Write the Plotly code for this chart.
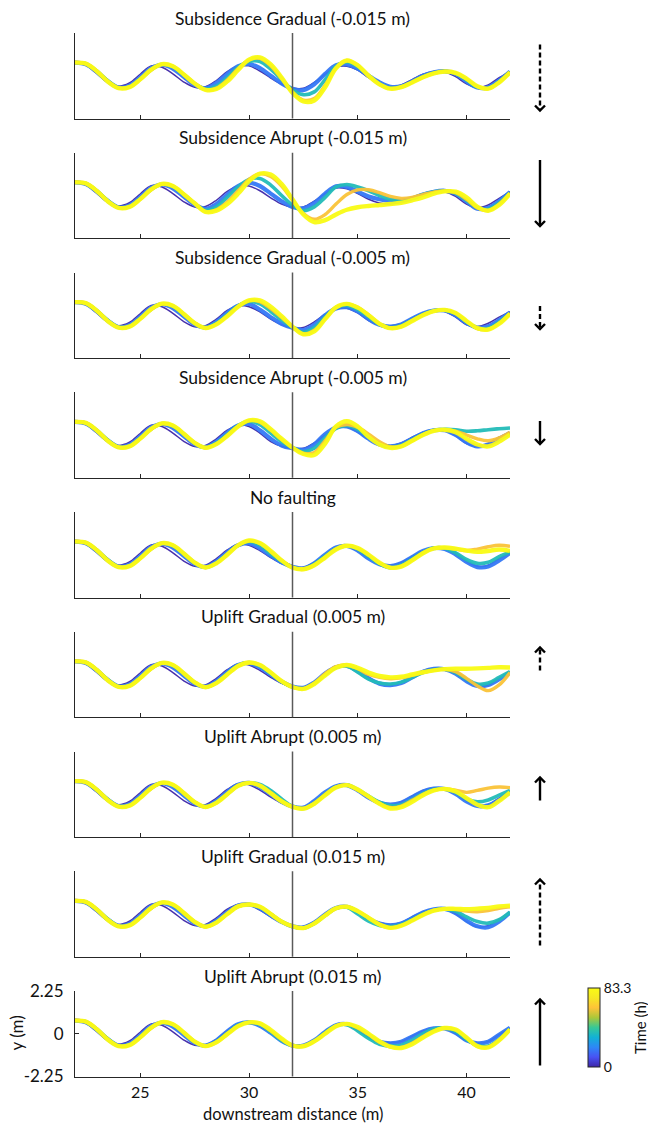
import plotly.graph_objects as go
from plotly.colors import sample_colorscale

# ---------------- data ----------------
X = [22.0, 22.5, 23.0, 23.5, 24.0, 24.5, 25.0, 25.5, 26.0, 26.5, 27.0, 27.5,
     28.0, 28.5, 29.0, 29.5, 30.0, 30.5, 31.0, 31.5, 32.0, 32.5, 33.0, 33.5,
     34.0, 34.5, 35.0, 35.5, 36.0, 36.5, 37.0, 37.5, 38.0, 38.5, 39.0, 39.5,
     40.0, 40.5, 41.0, 41.5, 42.0]

TIMES = [0, 18, 36, 62, 83.3]          # snapshot times (h)
T_MAX = 83.3
FAULT_X = 32

TITLES = ["Subsidence Gradual (-0.015 m)", "Subsidence Abrupt (-0.015 m)",
          "Subsidence Gradual (-0.005 m)", "Subsidence Abrupt (-0.005 m)",
          "No faulting", "Uplift Gradual (0.005 m)", "Uplift Abrupt (0.005 m)",
          "Uplift Gradual (0.015 m)", "Uplift Abrupt (0.015 m)"]

# upstream reach 22-27.5 m (one row per snapshot time), nearly identical in all runs
UPSTREAM = [
    [0.68, 0.55, 0.12, -0.35, -0.55, -0.38, 0.08, 0.52, 0.45, 0.10, -0.33, -0.60],
    [0.69, 0.60, 0.20, -0.28, -0.62, -0.52, -0.08, 0.40, 0.58, 0.38, -0.05, -0.48],
    [0.70, 0.63, 0.25, -0.26, -0.63, -0.58, -0.16, 0.32, 0.60, 0.47, 0.05, -0.42],
    [0.71, 0.64, 0.26, -0.28, -0.64, -0.60, -0.19, 0.30, 0.60, 0.50, 0.07, -0.40],
    [0.69, 0.64, 0.24, -0.30, -0.65, -0.60, -0.19, 0.32, 0.61, 0.50, 0.07, -0.41],
]

# downstream reach 28-42 m, per run, one row per snapshot time
SUB_GRAD_015 = [
    [-0.58, -0.25, 0.22, 0.50, 0.52, 0.25, -0.12, -0.45, -0.65, -0.66, -0.35, 0.08, 0.45, 0.50, 0.30, -0.10, -0.45, -0.58, -0.48, -0.20, 0.08, 0.22, 0.20, -0.05, -0.42, -0.62, -0.48, -0.10, 0.22],
    [-0.66, -0.38, 0.10, 0.50, 0.62, 0.40, 0.00, -0.40, -0.68, -0.76, -0.45, 0.10, 0.55, 0.60, 0.38, 0.00, -0.35, -0.58, -0.55, -0.30, 0.00, 0.18, 0.24, 0.10, -0.30, -0.62, -0.60, -0.25, 0.22],
    [-0.70, -0.55, -0.10, 0.45, 0.75, 0.75, 0.35, -0.20, -0.75, -1.00, -0.85, -0.20, 0.50, 0.72, 0.48, 0.00, -0.42, -0.65, -0.58, -0.32, -0.05, 0.15, 0.23, 0.12, -0.22, -0.60, -0.65, -0.30, 0.20],
    [-0.73, -0.65, -0.22, 0.38, 0.83, 0.92, 0.52, -0.15, -0.85, -1.28, -1.20, -0.50, 0.42, 0.80, 0.55, 0.00, -0.45, -0.68, -0.60, -0.34, -0.07, 0.13, 0.22, 0.14, -0.18, -0.57, -0.68, -0.33, 0.18],
    [-0.74, -0.70, -0.30, 0.30, 0.85, 0.97, 0.60, -0.10, -0.90, -1.35, -1.30, -0.60, 0.40, 0.80, 0.55, 0.00, -0.45, -0.68, -0.60, -0.35, -0.08, 0.12, 0.22, 0.15, -0.15, -0.55, -0.68, -0.35, 0.18],
]
SUB_ABR_015 = [
    [-0.58, -0.25, 0.22, 0.50, 0.50, 0.25, -0.12, -0.45, -0.62, -0.60, -0.30, 0.10, 0.40, 0.35, 0.10, -0.20, -0.40, -0.45, -0.35, -0.12, 0.10, 0.22, 0.20, -0.05, -0.45, -0.65, -0.50, -0.15, 0.20],
    [-0.70, -0.45, 0.05, 0.50, 0.68, 0.50, 0.10, -0.30, -0.60, -0.68, -0.40, 0.10, 0.48, 0.45, 0.20, -0.05, -0.20, -0.30, -0.30, -0.15, 0.05, 0.20, 0.25, 0.10, -0.30, -0.70, -0.65, -0.30, 0.18],
    [-0.78, -0.60, -0.10, 0.45, 0.85, 0.90, 0.55, 0.00, -0.50, -0.80, -0.60, -0.10, 0.45, 0.58, 0.45, 0.25, 0.00, -0.20, -0.25, -0.15, 0.05, 0.20, 0.25, 0.12, -0.25, -0.65, -0.72, -0.38, 0.15],
    [-0.85, -0.75, -0.35, 0.25, 0.85, 1.15, 1.00, 0.50, -0.25, -0.95, -1.25, -1.00, -0.45, 0.05, 0.30, 0.30, 0.15, -0.05, -0.15, -0.10, 0.05, 0.18, 0.24, 0.15, -0.20, -0.65, -0.78, -0.45, 0.12],
    [-0.86, -0.80, -0.45, 0.10, 0.75, 1.15, 1.10, 0.60, -0.20, -1.00, -1.40, -1.30, -1.00, -0.75, -0.62, -0.55, -0.50, -0.45, -0.38, -0.25, -0.10, 0.10, 0.22, 0.20, -0.10, -0.60, -0.80, -0.50, 0.10],
]
SUB_GRAD_005 = [
    [-0.55, -0.20, 0.25, 0.50, 0.45, 0.18, -0.20, -0.50, -0.66, -0.64, -0.35, 0.05, 0.33, 0.37, 0.12, -0.28, -0.52, -0.56, -0.45, -0.15, 0.12, 0.26, 0.20, -0.10, -0.50, -0.60, -0.42, -0.10, 0.19],
    [-0.64, -0.35, 0.12, 0.50, 0.60, 0.30, -0.10, -0.45, -0.66, -0.78, -0.50, 0.00, 0.35, 0.42, 0.20, -0.20, -0.50, -0.60, -0.48, -0.18, 0.10, 0.25, 0.25, 0.00, -0.40, -0.65, -0.58, -0.25, 0.15],
    [-0.66, -0.42, 0.03, 0.50, 0.72, 0.60, 0.20, -0.25, -0.64, -0.90, -0.65, -0.10, 0.40, 0.52, 0.30, -0.08, -0.48, -0.66, -0.55, -0.25, 0.05, 0.24, 0.27, 0.08, -0.35, -0.68, -0.68, -0.35, 0.10],
    [-0.67, -0.46, -0.03, 0.47, 0.77, 0.72, 0.35, -0.12, -0.60, -0.98, -0.78, -0.18, 0.42, 0.60, 0.42, 0.02, -0.44, -0.68, -0.60, -0.28, 0.02, 0.22, 0.28, 0.10, -0.32, -0.70, -0.74, -0.42, 0.10],
    [-0.67, -0.48, -0.05, 0.45, 0.78, 0.78, 0.45, -0.05, -0.60, -1.00, -0.85, -0.20, 0.42, 0.60, 0.40, 0.00, -0.45, -0.68, -0.60, -0.30, 0.00, 0.22, 0.28, 0.12, -0.30, -0.68, -0.75, -0.45, 0.08],
]
SUB_ABR_005 = [
    [-0.55, -0.20, 0.25, 0.52, 0.45, 0.10, -0.35, -0.60, -0.70, -0.70, -0.42, 0.00, 0.35, 0.42, 0.15, -0.22, -0.50, -0.56, -0.42, -0.12, 0.15, 0.28, 0.22, -0.05, -0.45, -0.60, -0.45, -0.12, 0.12],
    [-0.64, -0.35, 0.12, 0.50, 0.58, 0.25, -0.20, -0.55, -0.70, -0.78, -0.50, 0.05, 0.40, 0.45, 0.20, -0.20, -0.50, -0.60, -0.48, -0.20, 0.10, 0.25, 0.25, 0.00, -0.38, -0.60, -0.50, -0.20, 0.12],
    [-0.66, -0.42, 0.03, 0.50, 0.72, 0.55, 0.10, -0.35, -0.67, -0.88, -0.70, -0.15, 0.35, 0.50, 0.30, -0.10, -0.45, -0.62, -0.55, -0.25, 0.05, 0.25, 0.30, 0.28, 0.20, 0.22, 0.28, 0.33, 0.37],
    [-0.67, -0.46, -0.02, 0.47, 0.76, 0.68, 0.25, -0.25, -0.67, -0.95, -0.92, -0.30, 0.40, 0.55, 0.40, 0.05, -0.35, -0.62, -0.60, -0.30, 0.02, 0.24, 0.28, 0.20, 0.00, -0.20, -0.30, -0.15, 0.15],
    [-0.67, -0.48, -0.05, 0.45, 0.77, 0.72, 0.30, -0.20, -0.66, -1.00, -1.05, -0.45, 0.45, 0.72, 0.45, -0.10, -0.50, -0.68, -0.60, -0.30, 0.00, 0.22, 0.28, 0.15, -0.20, -0.50, -0.60, -0.35, 0.02],
]
NO_FAULT = [
    [-0.55, -0.20, 0.25, 0.55, 0.50, 0.22, -0.15, -0.47, -0.65, -0.66, -0.40, -0.02, 0.35, 0.45, 0.20, -0.15, -0.45, -0.55, -0.40, -0.10, 0.20, 0.33, 0.28, 0.05, -0.35, -0.60, -0.55, -0.20, 0.12],
    [-0.64, -0.35, 0.12, 0.50, 0.60, 0.35, -0.05, -0.40, -0.63, -0.72, -0.45, 0.00, 0.38, 0.46, 0.22, -0.20, -0.50, -0.60, -0.45, -0.12, 0.20, 0.35, 0.30, 0.02, -0.38, -0.65, -0.62, -0.30, 0.10],
    [-0.67, -0.42, 0.05, 0.50, 0.70, 0.50, 0.05, -0.35, -0.65, -0.76, -0.50, -0.08, 0.32, 0.47, 0.30, -0.08, -0.48, -0.68, -0.55, -0.22, 0.12, 0.35, 0.34, 0.10, -0.25, -0.45, -0.40, -0.10, 0.15],
    [-0.67, -0.44, 0.02, 0.50, 0.74, 0.60, 0.15, -0.30, -0.67, -0.77, -0.55, -0.12, 0.30, 0.47, 0.34, -0.02, -0.44, -0.69, -0.60, -0.27, 0.10, 0.34, 0.36, 0.30, 0.22, 0.30, 0.42, 0.50, 0.45],
    [-0.67, -0.45, 0.00, 0.50, 0.75, 0.62, 0.20, -0.30, -0.68, -0.76, -0.55, -0.15, 0.28, 0.47, 0.35, 0.00, -0.42, -0.68, -0.62, -0.30, 0.08, 0.33, 0.38, 0.32, 0.22, 0.15, 0.20, 0.28, 0.20],
]
UP_GRAD_005 = [
    [-0.55, -0.20, 0.25, 0.55, 0.50, 0.22, -0.15, -0.47, -0.65, -0.66, -0.40, -0.02, 0.35, 0.45, 0.20, -0.15, -0.45, -0.55, -0.40, -0.10, 0.20, 0.33, 0.28, 0.05, -0.35, -0.60, -0.55, -0.20, 0.12],
    [-0.64, -0.35, 0.12, 0.50, 0.60, 0.38, 0.00, -0.38, -0.63, -0.70, -0.42, 0.05, 0.38, 0.45, 0.18, -0.20, -0.48, -0.56, -0.45, -0.15, 0.15, 0.30, 0.28, 0.05, -0.35, -0.60, -0.55, -0.25, 0.10],
    [-0.66, -0.42, 0.05, 0.48, 0.63, 0.45, 0.05, -0.38, -0.66, -0.74, -0.45, 0.00, 0.38, 0.45, 0.12, -0.25, -0.45, -0.50, -0.40, -0.15, 0.10, 0.25, 0.28, 0.10, -0.25, -0.50, -0.45, -0.15, 0.15],
    [-0.67, -0.45, 0.00, 0.45, 0.63, 0.50, 0.10, -0.35, -0.66, -0.74, -0.45, 0.05, 0.42, 0.50, 0.30, 0.00, -0.15, -0.22, -0.18, -0.05, 0.10, 0.22, 0.28, 0.15, -0.20, -0.60, -0.85, -0.55, 0.10],
    [-0.67, -0.45, 0.00, 0.45, 0.63, 0.50, 0.10, -0.35, -0.66, -0.76, -0.50, -0.05, 0.35, 0.50, 0.35, 0.10, -0.08, -0.15, -0.12, 0.00, 0.12, 0.22, 0.28, 0.30, 0.30, 0.32, 0.35, 0.38, 0.37],
]
UP_ABR_005 = [
    [-0.55, -0.20, 0.25, 0.55, 0.50, 0.22, -0.15, -0.47, -0.65, -0.66, -0.40, -0.02, 0.35, 0.45, 0.20, -0.15, -0.45, -0.55, -0.40, -0.10, 0.20, 0.33, 0.28, 0.05, -0.35, -0.60, -0.55, -0.20, 0.12],
    [-0.64, -0.35, 0.12, 0.50, 0.60, 0.38, 0.00, -0.40, -0.64, -0.70, -0.35, 0.10, 0.42, 0.48, 0.20, -0.18, -0.45, -0.55, -0.45, -0.15, 0.15, 0.30, 0.28, 0.02, -0.38, -0.62, -0.58, -0.28, 0.10],
    [-0.66, -0.42, 0.02, 0.45, 0.60, 0.52, 0.20, -0.25, -0.64, -0.75, -0.48, 0.00, 0.38, 0.48, 0.25, -0.10, -0.42, -0.60, -0.55, -0.28, 0.05, 0.25, 0.28, 0.10, -0.25, -0.40, -0.30, -0.05, 0.20],
    [-0.67, -0.45, 0.00, 0.45, 0.60, 0.47, 0.08, -0.35, -0.66, -0.75, -0.48, -0.02, 0.38, 0.48, 0.22, -0.15, -0.48, -0.70, -0.62, -0.32, 0.00, 0.22, 0.28, 0.22, 0.10, 0.20, 0.32, 0.38, 0.35],
    [-0.67, -0.45, 0.00, 0.45, 0.60, 0.45, 0.05, -0.38, -0.66, -0.76, -0.50, -0.05, 0.35, 0.48, 0.25, -0.12, -0.50, -0.75, -0.68, -0.40, -0.05, 0.20, 0.28, 0.15, -0.20, -0.55, -0.68, -0.35, 0.10],
]
UP_GRAD_015 = [
    [-0.55, -0.20, 0.25, 0.50, 0.48, 0.20, -0.15, -0.47, -0.65, -0.66, -0.40, 0.00, 0.33, 0.40, 0.15, -0.20, -0.45, -0.55, -0.45, -0.15, 0.12, 0.25, 0.25, 0.00, -0.40, -0.68, -0.62, -0.28, 0.10],
    [-0.64, -0.35, 0.10, 0.45, 0.50, 0.30, -0.08, -0.42, -0.65, -0.70, -0.45, -0.02, 0.32, 0.38, 0.12, -0.25, -0.50, -0.60, -0.50, -0.22, 0.08, 0.25, 0.27, 0.05, -0.35, -0.65, -0.70, -0.40, 0.08],
    [-0.66, -0.42, 0.02, 0.40, 0.50, 0.36, 0.00, -0.40, -0.65, -0.74, -0.50, -0.08, 0.30, 0.36, 0.00, -0.38, -0.60, -0.66, -0.55, -0.30, 0.00, 0.20, 0.27, 0.15, -0.15, -0.40, -0.48, -0.30, 0.10],
    [-0.67, -0.45, 0.00, 0.40, 0.50, 0.38, 0.00, -0.40, -0.65, -0.74, -0.50, -0.08, 0.30, 0.38, 0.15, -0.20, -0.55, -0.72, -0.60, -0.33, -0.03, 0.20, 0.27, 0.24, 0.15, 0.12, 0.18, 0.30, 0.38],
    [-0.67, -0.45, 0.00, 0.40, 0.50, 0.38, 0.00, -0.40, -0.65, -0.74, -0.50, -0.08, 0.30, 0.38, 0.15, -0.20, -0.55, -0.73, -0.62, -0.35, -0.05, 0.18, 0.27, 0.27, 0.25, 0.28, 0.32, 0.40, 0.44],
]
UP_ABR_015 = [
    [-0.58, -0.30, 0.15, 0.50, 0.55, 0.50, 0.15, -0.30, -0.60, -0.62, -0.35, 0.05, 0.40, 0.48, 0.25, -0.10, -0.38, -0.47, -0.40, -0.12, 0.15, 0.30, 0.28, 0.00, -0.38, -0.50, -0.40, -0.05, 0.30],
    [-0.62, -0.35, 0.12, 0.50, 0.60, 0.42, 0.05, -0.38, -0.62, -0.62, -0.35, 0.10, 0.45, 0.50, 0.25, -0.12, -0.42, -0.50, -0.42, -0.15, 0.12, 0.28, 0.28, 0.05, -0.35, -0.50, -0.42, -0.05, 0.32],
    [-0.64, -0.42, 0.02, 0.45, 0.60, 0.48, 0.10, -0.35, -0.62, -0.65, -0.38, 0.05, 0.42, 0.48, 0.15, -0.25, -0.55, -0.65, -0.60, -0.35, 0.00, 0.25, 0.30, 0.12, -0.30, -0.62, -0.65, -0.30, 0.25],
    [-0.65, -0.45, -0.02, 0.42, 0.60, 0.52, 0.15, -0.30, -0.62, -0.66, -0.40, 0.02, 0.42, 0.52, 0.30, -0.05, -0.45, -0.70, -0.72, -0.50, -0.15, 0.15, 0.30, 0.20, -0.22, -0.66, -0.70, -0.32, 0.22],
    [-0.65, -0.45, -0.02, 0.40, 0.60, 0.55, 0.20, -0.25, -0.62, -0.66, -0.40, 0.00, 0.40, 0.52, 0.35, 0.00, -0.40, -0.68, -0.75, -0.55, -0.20, 0.12, 0.30, 0.22, -0.20, -0.65, -0.72, -0.35, 0.22],
]

RUNS = [SUB_GRAD_015, SUB_ABR_015, SUB_GRAD_005, SUB_ABR_005, NO_FAULT,
        UP_GRAD_005, UP_ABR_005, UP_GRAD_015, UP_ABR_015]

# fault movement arrows: (direction +1 up / -1 down, dashed=gradual, long=0.015 m, centre px)
ARROWS = [(-1, True, True, 77.5), (-1, False, True, 193), (-1, True, False, 317.5),
          (-1, False, False, 432.5), None, (1, True, False, 659), (1, False, False, 789),
          (1, True, True, 912.5), (1, False, True, 1032.5)]

# ---------------- style ----------------
PARULA = [[0.0, "#3e26a8"], [0.125, "#4852f4"], [0.25, "#2e87f7"], [0.375, "#12b1d6"],
          [0.5, "#37c897"], [0.625, "#abc739"], [0.75, "#fec338"], [0.875, "#f5e824"],
          [1.0, "#f9fb15"]]
WIDTHS = [1.5, 4.2, 3.6, 3.4, 4.4]
FONT = "Lato"
TXT = "#111111"
AX = "#262626"

W, H = 648, 1124
ML, MR, MT, MB = 75, 138, 33, 47
PW, PH = W - ML - MR, H - MT - MB
PITCH, PANEL_H = 119.75, 85.5


def py(px):
    return min(1.0, max(0.0, 1 - (px - MT) / PH))


def pyf(px):
    return 1 - (px - MT) / PH


def pxx(px):
    return (px - ML) / PW


fig = go.Figure()
layout = dict(width=W, height=H, margin=dict(l=ML, r=MR, t=MT, b=MB),
              paper_bgcolor="white", plot_bgcolor="white", showlegend=False,
              font=dict(family=FONT, color=TXT, size=16))
shapes, annotations = [], []
n = len(RUNS)
for i, run in enumerate(RUNS):
    k = i + 1
    sfx = "" if k == 1 else str(k)
    top = MT + i * PITCH
    bot = top + PANEL_H
    last = (i == n - 1)
    layout["xaxis" + sfx] = dict(
        domain=[0, 1], anchor="y" + sfx, range=[22, 42], showgrid=False, zeroline=False,
        showline=True, linecolor=AX, linewidth=1, ticks="inside", ticklen=4, tickwidth=1,
        tickcolor=AX, tickvals=[25, 30, 35, 40], showticklabels=last,
        tickfont=dict(size=16, family=FONT, color=TXT), ticklabelstandoff=1)
    layout["yaxis" + sfx] = dict(
        domain=[py(bot), py(top)], anchor="x" + sfx, range=[-2.25, 2.25], showgrid=False,
        zeroline=False, showline=True, linecolor=AX, linewidth=1,
        ticks="inside" if last else "", ticklen=4, tickcolor=AX,
        tickvals=[-2.25, 0, 2.25], ticktext=["-2.25", "0", "2.25"], showticklabels=last,
        tickfont=dict(size=17, family=FONT, color=TXT), ticklabelstandoff=7)
    for j, t in enumerate(TIMES):
        col = sample_colorscale(PARULA, [t / T_MAX])[0]
        fig.add_trace(go.Scatter(
            x=X, y=UPSTREAM[j] + run[j], mode="lines", xaxis="x" + sfx, yaxis="y" + sfx,
            line=dict(color=col, width=WIDTHS[j], shape="spline", smoothing=1.0),
            opacity=0.95, hoverinfo="skip"))
    shapes.append(dict(type="line", xref="x" + sfx, yref="y" + sfx + " domain",
                       x0=FAULT_X, x1=FAULT_X, y0=0, y1=1, layer="above",
                       line=dict(color="#5a5a5a", width=1.5)))
    annotations.append(dict(text=TITLES[i], x=0.5, xref="paper", y=py(top), yref="paper",
                            yanchor="middle", yshift=15, showarrow=False,
                            font=dict(size=17.5, family=FONT, color=TXT)))
    arr = ARROWS[i]
    if arr is not None:
        d, dashed, long, cy = arr
        L = 66 if long else 23
        ax_px = 540
        y_tail = cy + d * L / 2
        y_head = cy - d * L / 2
        shapes.append(dict(type="line", xref="paper", yref="paper",
                           x0=pxx(ax_px), x1=pxx(ax_px), y0=pyf(y_tail), y1=pyf(y_head + d * 1),
                           line=dict(color="black", width=2.4,
                                     dash="5px,3px" if dashed else "solid")))
        hw, hh = 5, 5
        shapes.append(dict(type="path", xref="paper", yref="paper",
                           path="M {:.5f},{:.5f} L {:.5f},{:.5f} L {:.5f},{:.5f}".format(
                               pxx(ax_px - hw), pyf(y_head + d * hh),
                               pxx(ax_px), pyf(y_head),
                               pxx(ax_px + hw), pyf(y_head + d * hh)),
                           line=dict(color="black", width=2.4)))

# colour bar
fig.add_trace(go.Scatter(
    x=[None], y=[None], mode="markers", xaxis="x9", yaxis="y9", hoverinfo="skip",
    marker=dict(color=[0], cmin=0, cmax=T_MAX, colorscale=PARULA, showscale=True,
                colorbar=dict(x=pxx(588), xanchor="left", xpad=0, ypad=0,
                              y=pyf(1027.5), yanchor="middle", lenmode="pixels", len=79,
                              thickness=12, outlinecolor=AX, outlinewidth=1,
                              tickvals=[0, T_MAX], ticktext=["0", "83.3"], ticks="",
                              tickfont=dict(size=14, family=FONT, color=TXT)))))

annotations.append(dict(text="Time (h)", x=pxx(640), xref="paper", y=pyf(1028), yref="paper",
                        textangle=-90, showarrow=False, xanchor="center", yanchor="middle",
                        font=dict(size=15, family=FONT, color=TXT)))
annotations.append(dict(text="y (m)", x=pxx(16), xref="paper", y=pyf(1032.5), yref="paper",
                        textangle=-90, showarrow=False, xanchor="center", yanchor="middle",
                        font=dict(size=17, family=FONT, color=TXT)))
annotations.append(dict(text="downstream distance (m)", x=0.5, xref="paper", y=pyf(1114),
                        yref="paper", showarrow=False, xanchor="center", yanchor="middle",
                        font=dict(size=16.5, family=FONT, color=TXT)))

layout["shapes"] = shapes
layout["annotations"] = annotations
fig.update_layout(**layout)
fig.write_html("out.html")
